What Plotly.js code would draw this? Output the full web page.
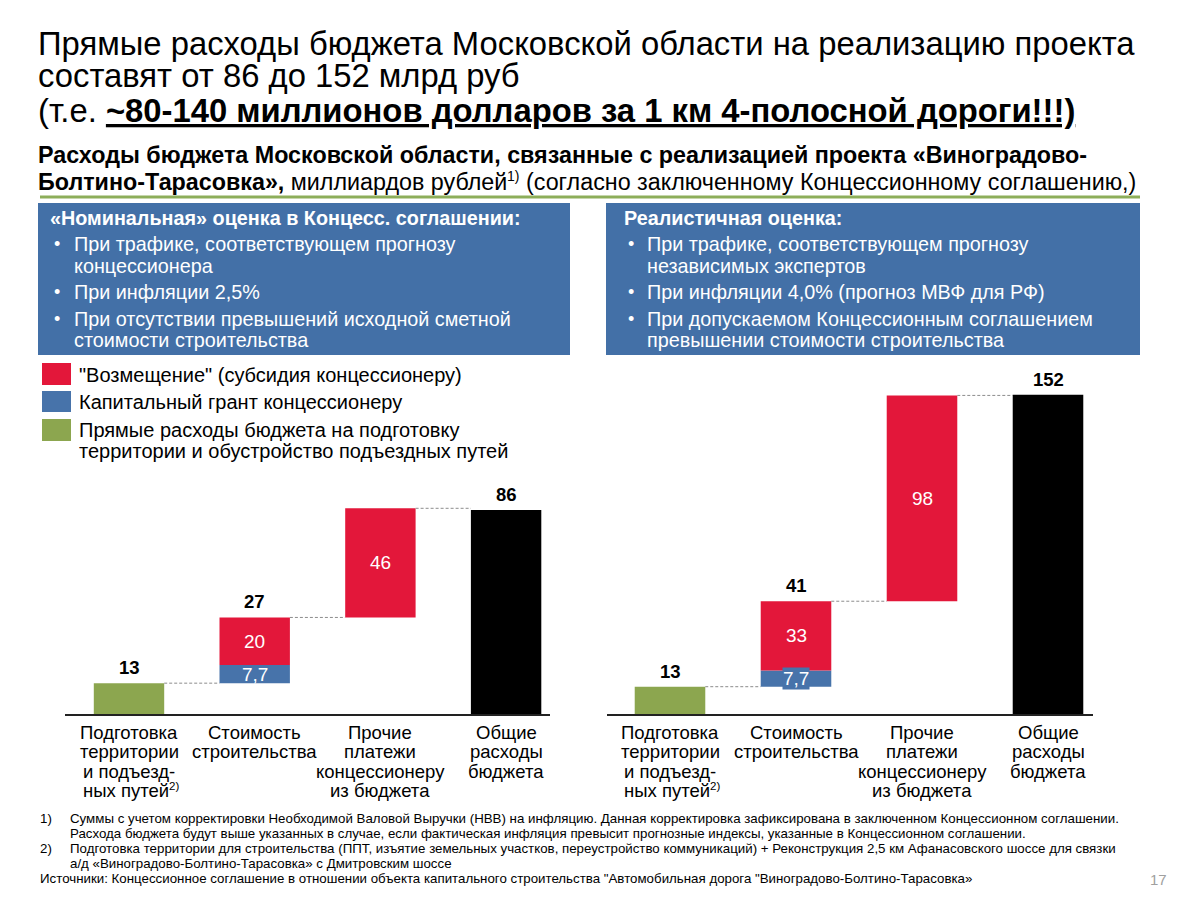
<!DOCTYPE html>
<html>
<head>
<meta charset="utf-8">
<script src="https://cdn.plot.ly/plotly-3.0.1.min.js"></script>
<style>html,body{margin:0;padding:0;background:#fff;}#chart{width:1200px;height:900px;}</style>
</head>
<body>
<div id="chart"></div>
<script>
// ---- Data (billion roubles) ----
const categories = [
  "Подготовка<br>территории<br>и подъезд-<br>ных путей<sup>2)</sup>",
  "Стоимость<br>строительства",
  "Прочие<br>платежи<br>концессионеру<br>из бюджета",
  "Общие<br>расходы<br>бюджета"
];
const scenarioNames = ["«Номинальная» оценка в Концесс. соглашении:", "Реалистичная оценка:"];
const prepCost      = [13, 13];     // green
const capitalGrant  = [7.7, 7.7];   // blue
const constrReimb   = [20, 33];     // red, construction part
const constrTotal   = [27, 41];     // label above construction bar
const otherPayments = [46, 98];     // red, other payments
const totalSpend    = [86, 152];    // black
const legendLabels = [
  "\"Возмещение\" (субсидия концессионеру)",
  "Капитальный грант концессионеру",
  "Прямые расходы бюджета на подготовку<br>территории и обустройство подъездных путей"
];

// ---- Styles ----
const RED = "#E3173A", BLUE = "#4773AA", GREEN = "#8CA64F", BLACK = "#000000";
const BOXBLUE = "#4370A7", LINEGREEN = "#8DAE5A";
const FONT = "Liberation Sans, Arial, Helvetica, sans-serif";
const W = 1200, H = 900;
const px = x => x / W, py = y => 1 - y / H;
const fmt = v => String(v).replace(".", ",");

// text width measurement (for placing superscripts)
const ctx = document.createElement("canvas").getContext("2d");
function measure(t, size, bold) {
  ctx.font = (bold ? "bold " : "") + size + "px 'Liberation Sans', Arial, sans-serif";
  return ctx.measureText(t).width;
}

const BAR_W = 0.56;
const axes = [
  {xa: "x", ya: "y", xdom: [65, 550], yrange: [0, 145], c0: 129, step: 125.7},
  {xa: "x2", ya: "y2", xdom: [607, 1093], yrange: [0, 163.8], c0: 670, step: 126}
];

const traces = [];
const annotations = [];
const shapes = [];

function txt(x, y, text, size, opts) {
  annotations.push(Object.assign({xref: "paper", yref: "paper", x: px(x), y: py(y), text: text,
    showarrow: false, xanchor: "left", yanchor: "middle", align: "left",
    font: {family: FONT, size: size, color: "#000"}}, opts || {}));
}

const CAT = 18.5, SUPC = 11.5;
const catLineY = [732, 751.5, 771, 790.5];

for (let s = 0; s < 2; s++) {
  const xa = axes[s].xa, ya = axes[s].ya;
  const base1 = prepCost[s];
  const base2 = base1 + capitalGrant[s];
  const top2 = base2 + constrReimb[s];
  const top3 = top2 + otherPayments[s];
  traces.push({type: "bar", x: [0], y: [prepCost[s]], base: [0], width: BAR_W,
    marker: {color: GREEN}, xaxis: xa, yaxis: ya, hoverinfo: "skip"});
  traces.push({type: "bar", x: [1], y: [capitalGrant[s]], base: [base1], width: BAR_W,
    marker: {color: BLUE}, xaxis: xa, yaxis: ya, hoverinfo: "skip"});
  traces.push({type: "bar", x: [1, 2], y: [constrReimb[s], otherPayments[s]], base: [base2, top2], width: BAR_W,
    marker: {color: RED}, xaxis: xa, yaxis: ya, hoverinfo: "skip"});
  traces.push({type: "bar", x: [3], y: [totalSpend[s]], base: [0], width: BAR_W,
    marker: {color: BLACK}, xaxis: xa, yaxis: ya, hoverinfo: "skip"});

  // connectors
  const lv = [base1, top2, top3];
  for (let i = 0; i < 3; i++) {
    shapes.push({type: "line", xref: xa, yref: ya, x0: i + BAR_W / 2, x1: i + 1 - BAR_W / 2,
      y0: lv[i], y1: lv[i], line: {color: "#8c8c8c", width: 1, dash: "3px,2px"}});
  }
  // labels above bars (bold)
  const tops = [[0, prepCost[s], prepCost[s]], [1, top2, constrTotal[s]], [3, totalSpend[s], totalSpend[s]]];
  tops.forEach(t => annotations.push({xref: xa, yref: ya, x: t[0], y: t[1], yshift: 3,
    text: "<b>" + fmt(t[2]) + "</b>", showarrow: false, yanchor: "bottom",
    font: {family: FONT, size: 18.5, color: "#000"}}));
  // inside labels (white)
  annotations.push({xref: xa, yref: ya, x: 1, y: base1 + capitalGrant[s] / 2, text: fmt(capitalGrant[s]),
    showarrow: false, yanchor: "middle", font: {family: FONT, size: 19, color: "#fff"},
    bgcolor: s === 1 ? BLUE : "rgba(0,0,0,0)", borderpad: 0});
  annotations.push({xref: xa, yref: ya, x: 1, y: base2 + constrReimb[s] / 2, text: fmt(constrReimb[s]),
    showarrow: false, yanchor: "middle", font: {family: FONT, size: 19, color: "#fff"}});
  annotations.push({xref: xa, yref: ya, x: 2, y: top2 + otherPayments[s] / 2, text: fmt(otherPayments[s]),
    showarrow: false, yanchor: "middle", font: {family: FONT, size: 19, color: "#fff"}});

  // category labels (tight line spacing, one annotation per line; superscripts placed separately)
  categories.forEach((c, i) => {
    c.split("<br>").forEach((ln, j) => {
      const m = ln.match(/^(.*)<sup>(.*)<\/sup>$/);
      if (m) {
        const w1 = measure(m[1], CAT, false), w2 = measure(m[2], SUPC, false);
        const left = -(w1 + w2) / 2;
        annotations.push({xref: xa, yref: "paper", x: i, y: py(catLineY[j]), text: m[1], showarrow: false,
          xanchor: "left", xshift: left, yanchor: "middle", font: {family: FONT, size: CAT, color: "#000"}});
        annotations.push({xref: xa, yref: "paper", x: i, y: py(catLineY[j]), text: m[2], showarrow: false,
          xanchor: "left", xshift: left + w1, yshift: 5, yanchor: "middle", font: {family: FONT, size: SUPC, color: "#000"}});
      } else {
        annotations.push({xref: xa, yref: "paper", x: i, y: py(catLineY[j]), text: ln, showarrow: false,
          xanchor: "center", yanchor: "middle", font: {family: FONT, size: CAT, color: "#000"}});
      }
    });
  });
}

// Title
txt(36, 44, "Прямые расходы бюджета Московской области на реализацию проекта", 32.8);
txt(36, 76, "составят от 86 до 152 млрд руб", 32.8);
txt(36, 111, "(т.е. <b><u>~80-140 миллионов долларов за 1 км 4-полосной дороги!!!)</u></b>", 32.8);
// Subtitle
const SUB = 23.3, SUPS = 14;
txt(36, 155, "<b>Расходы бюджета Московской области, связанные с реализацией проекта «Виноградово-</b>", SUB);
const s2a = "Болтино-Тарасовка»,", s2b = " миллиардов рублей", s2sup = "1)", s2c = "(согласно заключенному Концессионному соглашению,)";
const wA = measure(s2a, SUB, true) + measure(s2b, SUB, false);
const wSup = measure(s2sup, SUPS, false);
const wSp = measure(" ", SUB, false);
txt(36, 182, "<b>" + s2a + "</b>" + s2b, SUB);
txt(36 + wA, 176, s2sup, SUPS);
txt(36 + wA + wSup + wSp, 182, s2c, SUB);
shapes.push({type: "line", xref: "paper", yref: "paper", x0: px(40), x1: px(1140), y0: py(197), y1: py(197),
  line: {color: LINEGREEN, width: 3}});

// Info boxes
const boxes = [
  {x0: 38, x1: 570, tx: 48, bx: 52, bt: 72, head: scenarioNames[0],
   lines: [["•", "При трафике, соответствующем прогнозу"], ["", "концессионера"], ["•", "При инфляции 2,5%"],
           ["•", "При отсутствии превышений исходной сметной"], ["", "стоимости строительства"]]},
  {x0: 606, x1: 1140, tx: 622, bx: 626, bt: 645, head: scenarioNames[1],
   lines: [["•", "При трафике, соответствующем прогнозу"], ["", "независимых экспертов"], ["•", "При инфляции 4,0% (прогноз МВФ для РФ)"],
           ["•", "При допускаемом Концессионным соглашением"], ["", "превышении стоимости строительства"]]}
];
const lineY = [244, 266, 292, 319, 340];
boxes.forEach(b => {
  shapes.push({type: "rect", xref: "paper", yref: "paper", x0: px(b.x0), x1: px(b.x1), y0: py(203), y1: py(355),
    fillcolor: BOXBLUE, line: {width: 0}, layer: "below"});
  txt(b.tx, 218, "<b>" + b.head + "</b>", 19.8, {font: {family: FONT, size: 19.8, color: "#fff"}});
  b.lines.forEach((l, i) => {
    if (l[0]) txt(b.bx, lineY[i], l[0], 18, {font: {family: FONT, size: 18, color: "#fff"}});
    txt(b.bt, lineY[i], l[1], 19.8, {font: {family: FONT, size: 19.8, color: "#fff"}});
  });
});

// Legend
const legendColors = [RED, BLUE, GREEN];
const legY = [[363, 385], [391, 412], [419, 441]];
const legTextY = [[375], [402], [430, 451]];
legendLabels.forEach((l, i) => {
  shapes.push({type: "rect", xref: "paper", yref: "paper", x0: px(42), x1: px(71), y0: py(legY[i][0]), y1: py(legY[i][1]),
    fillcolor: legendColors[i], line: {width: 0}});
  l.split("<br>").forEach((ln, j) => txt(77, legTextY[i][j], ln, 20));
});

// Footnotes
const FN = 13.3;
const fnY = [818, 833, 848, 863, 878];
txt(38, fnY[0], "1)", FN);
txt(68, fnY[0], "Суммы с учетом корректировки Необходимой Валовой Выручки (НВВ) на инфляцию. Данная корректировка зафиксирована в заключенном Концессионном соглашении.", FN);
txt(68, fnY[1], "Расхода бюджета будут выше указанных в случае, если фактическая инфляция превысит прогнозные индексы, указанные в Концессионном соглашении.", FN);
txt(38, fnY[2], "2)", FN);
txt(68, fnY[2], "Подготовка территории для строительства (ППТ, изъятие земельных участков, переустройство коммуникаций) + Реконструкция 2,5 км Афанасовского шоссе для связки", FN);
txt(68, fnY[3], "а/д «Виноградово-Болтино-Тарасовка» с Дмитровским шоссе", FN);
txt(38, fnY[4], "Источники: Концессионное соглашение в отношении объекта капитального строительства \"Автомобильная дорога \"Виноградово-Болтино-Тарасовка»", FN);
txt(1169, 879, "17", 15, {xanchor: "right", font: {family: FONT, size: 15, color: "#A0A0A0"}});

const yDom = [py(714), py(370)];
function xaxisDef(i) {
  const a = axes[i];
  return {domain: [px(a.xdom[0]), px(a.xdom[1])], range: [(a.xdom[0] - a.c0) / a.step, (a.xdom[1] - a.c0) / a.step],
    tickvals: [0, 1, 2, 3], ticktext: categories, showticklabels: false, showline: true, linecolor: "#222", linewidth: 1.5,
    showgrid: false, zeroline: false, ticks: "",
    anchor: i === 0 ? "y" : "y2", fixedrange: true};
}
function yaxisDef(i) {
  return {domain: yDom, range: axes[i].yrange, showgrid: false, zeroline: false, showline: false,
    showticklabels: false, ticks: "", anchor: i === 0 ? "x" : "x2", fixedrange: true};
}

const layout = {
  width: W, height: H, margin: {l: 0, r: 0, t: 0, b: 0},
  paper_bgcolor: "#fff", plot_bgcolor: "rgba(0,0,0,0)",
  barmode: "overlay", showlegend: false,
  xaxis: xaxisDef(0), yaxis: yaxisDef(0), xaxis2: xaxisDef(1), yaxis2: yaxisDef(1),
  annotations: annotations, shapes: shapes,
  font: {family: FONT}
};
Plotly.newPlot("chart", traces, layout, {displayModeBar: false, staticPlot: true});
</script>
</body>
</html>
